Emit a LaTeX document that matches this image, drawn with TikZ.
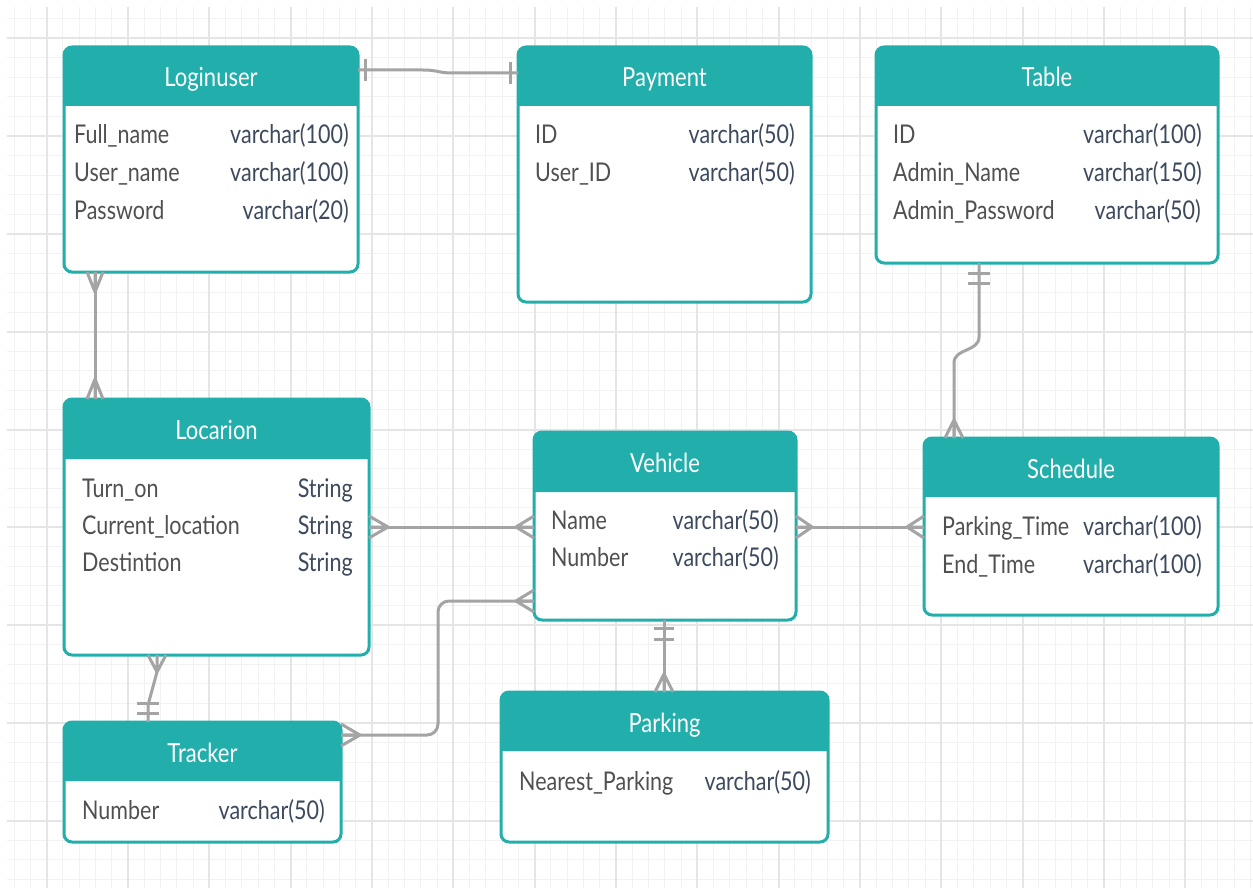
\documentclass[tikz,border=0pt]{standalone}
\usepackage{fontspec}
\setmainfont{Lato}
\usepackage{graphicx}
\usetikzlibrary{calc}
\definecolor{tealc}{HTML}{22AFAC}
\definecolor{linkc}{HTML}{A4A4A4}
\definecolor{namec}{HTML}{505050}
\definecolor{typec}{HTML}{3D4A5E}
\definecolor{gridminor}{HTML}{F2F2F2}
\definecolor{gridmajor}{HTML}{E5E5E5}

% text is drawn slightly taller than wide
\newcommand\vs[1]{\scalebox{1}[1.2]{#1}}

% crow's foot: apex, middle point on the box edge, half-spread vector
\newcommand\crowft[3]{%
  \draw[conn] (#1) -- (#2) (#1) -- ($(#2)+(#3)$) (#1) -- ($(#2)-(#3)$);}

% one table: name, left, top, width, height, header height, title
\newcommand\ertable[7]{%
  \node[tbox, minimum width={#4*1pt}, minimum height={#5*1pt}] (#1) at (#2,#3) {};
  \fill[tealc] ($(#1.north west)+(0,#6)$) {[rounded corners=8pt] -- (#1.north west) -- (#1.north east)} -- ($(#1.north east)+(0,#6)$) -- cycle;
  \node[ttitle] (#1-title) at ($(#1.north)+(0,40)$) {\vs{#7}};}

% one field row: id, left x, right x, baseline, field, type
\newcommand\fieldrow[6]{%
  \node[fname] (#1n) at (#2,#4) {\vs{#5}};
  \node[ftype] (#1t) at (#3,#4) {\vs{#6}};}

\begin{document}
\begin{tikzpicture}[x=1pt,y=-1pt,
  tbox/.style={draw=tealc, line width=3pt, rounded corners=8pt, fill=white,
    anchor=north west, inner sep=0pt, outer sep=0pt},
  ttitle/.style={anchor=base, text=white, font=\fontsize{22}{26}\selectfont, inner sep=0pt},
  fname/.style={anchor=base west, text=namec, font=\fontsize{21.5}{26}\selectfont, inner sep=0pt},
  ftype/.style={anchor=base east, text=typec, font=\fontsize{21.5}{26}\selectfont, inner sep=0pt},
  conn/.style={draw=linkc, line width=3pt},
]
\useasboundingbox (0,0) rectangle (1253,888);
\fill[white] (0,0) rectangle (1253,888);

% background grid
\begin{scope}
  \clip (7,7) rectangle (1253,888);
  \foreach \i in {-3,...,75} {\draw[gridminor, line width=1pt] ({46.7+16.267*\i},7) -- ++(0,881);}
  \foreach \j in {-2,...,45} {\draw[gridminor, line width=1pt] (7,{38.3+19.56*\j}) -- ++(1246,0);}
  \foreach \i in {-1,...,15} {\draw[gridmajor, line width=2pt] ({46.7+81.33*\i},7) -- ++(0,881);}
  \foreach \j in {-1,...,9} {\draw[gridmajor, line width=2pt] (7,{38.3+97.8*\j}) -- ++(1246,0);}
\end{scope}

% tables
\ertable{login}{64}{47}{294}{225}{59}{Loginuser}
\fieldrow{login1}{74}{349}{144}{Full\_name}{varchar(100)}
\fieldrow{login2}{74}{349}{181}{User\_name}{varchar(100)}
\fieldrow{login3}{74}{349}{219}{Password}{varchar(20)}

\ertable{pay}{518}{47}{293}{255}{59}{Payment}
\fieldrow{pay1}{535}{795}{144}{ID}{varchar(50)}
\fieldrow{pay2}{535}{795}{181}{User\_ID}{varchar(50)}

\ertable{tab}{876}{47}{342}{216}{59}{Table}
\fieldrow{tab1}{893}{1202}{144}{ID}{varchar(100)}
\fieldrow{tab2}{893}{1202}{181}{Admin\_Name}{varchar(150)}
\fieldrow{tab3}{893}{1201}{219}{Admin\_Password}{varchar(50)}

\ertable{loc}{64}{399}{305}{256}{60}{Locarion}
\fieldrow{loc1}{82}{353}{497}{Turn\_on}{String}
\fieldrow{loc2}{82}{353}{534}{Current\_location}{String}
\fieldrow{loc3}{82}{353}{571}{Destintion}{String}

\ertable{veh}{534}{432}{262}{188}{60}{Vehicle}
\fieldrow{veh1}{551}{779}{529}{Name}{varchar(50)}
\fieldrow{veh2}{551}{779}{566}{Number}{varchar(50)}

\ertable{sch}{924}{438}{294}{177}{59}{Schedule}
\fieldrow{sch1}{942}{1202}{535}{Parking\_Time}{varchar(100)}
\fieldrow{sch2}{942}{1202}{573}{End\_Time}{varchar(100)}

\ertable{trk}{64}{722}{277}{120}{59}{Tracker}
\fieldrow{trk1}{82}{325}{819}{Number}{varchar(50)}

\ertable{prk}{501}{692}{327}{150}{59}{Parking}
\fieldrow{prk1}{519}{811}{790}{Nearest\_Parking}{varchar(50)}

% Loginuser -- Payment (one to one)
\coordinate (lpA) at ($(login.north east)+(0,23)$);
\coordinate (lpB) at ($(pay.north west)+(0,26)$);
\draw[conn] (lpA) -- ++(65,0) .. controls +(15,0) and ($(lpB)+(-80,0)$) .. ($(lpB)+(-65,0)$) -- (lpB);
\draw[conn] ($(lpA)+(7,-11)$) -- ++(0,22);
\draw[conn] ($(lpB)+(-8,-11)$) -- ++(0,22);

% Loginuser -- Locarion (many to many)
\coordinate (llA) at ($(login.south west)+(31,0)$);
\coordinate (llB) at ($(loc.north west)+(31,0)$);
\draw[conn] (llA) -- (llB);
\crowft{$(llA)+(0,20)$}{llA}{8,0}
\crowft{$(llB)+(0,-20)$}{llB}{8,0}

% Locarion -- Vehicle (many to many)
\coordinate (lvA) at ($(loc.north east)+(0,128)$);
\coordinate (lvB) at ($(veh.north west)+(0,95)$);
\draw[conn] (lvA) -- (lvB);
\crowft{$(lvA)+(19,0)$}{lvA}{0,11}
\crowft{$(lvB)+(-18,0)$}{lvB}{0,11}

% Tracker -- Vehicle (many to many)
\coordinate (tvA) at ($(trk.north east)+(0,13)$);
\coordinate (tvB) at ($(veh.north west)+(0,169)$);
\draw[conn, rounded corners=11pt] (tvA) -- ++(97,0) |- (tvB);
\crowft{$(tvA)+(19,0)$}{tvA}{0,11}
\crowft{$(tvB)+(-18,0)$}{tvB}{0,11}

% Locarion -- Tracker (many to one)
\coordinate (ltA) at ($(loc.south west)+(93,0)$);
\coordinate (ltB) at ($(trk.north west)+(84,0)$);
\draw[conn] ($(ltA)+(0,17)$) -- ($(ltB)+(0,-17)$) -- (ltB);
\crowft{$(ltA)+(0,17)$}{ltA}{9,0}
\draw[conn] ($(ltB)+(-11,-19)$) -- ++(22,0);
\draw[conn] ($(ltB)+(-11,-9)$) -- ++(22,0);

% Table -- Schedule (one to many)
\coordinate (tsA) at ($(tab.south west)+(103,0)$);
\coordinate (tsB) at ($(sch.north west)+(30,0)$);
\draw[conn] (tsA) -- ++(0,74) .. controls +(0,15) and ($(tsB)+(0,-90)$) .. ($(tsB)+(0,-75)$) -- (tsB);
\draw[conn] ($(tsA)+(-11,10)$) -- ++(22,0);
\draw[conn] ($(tsA)+(-11,20)$) -- ++(22,0);
\crowft{$(tsB)+(0,-18)$}{tsB}{9,0}

% Vehicle -- Schedule (many to many)
\coordinate (vsA) at ($(veh.north east)+(0,95)$);
\coordinate (vsB) at ($(sch.north west)+(0,89)$);
\draw[conn] (vsA) -- (vsB);
\crowft{$(vsA)+(16,0)$}{vsA}{0,11}
\crowft{$(vsB)+(-17,0)$}{vsB}{0,11}

% Vehicle -- Parking (one to many)
\coordinate (vpA) at ($(veh.south west)+(130,0)$);
\coordinate (vpB) at ($(prk.north west)+(163,0)$);
\draw[conn] (vpA) -- (vpB);
\draw[conn] ($(vpA)+(-10,8)$) -- ++(20,0);
\draw[conn] ($(vpA)+(-10,19)$) -- ++(20,0);
\crowft{$(vpB)+(0,-18)$}{vpB}{9,0}
\end{tikzpicture}
\end{document}
